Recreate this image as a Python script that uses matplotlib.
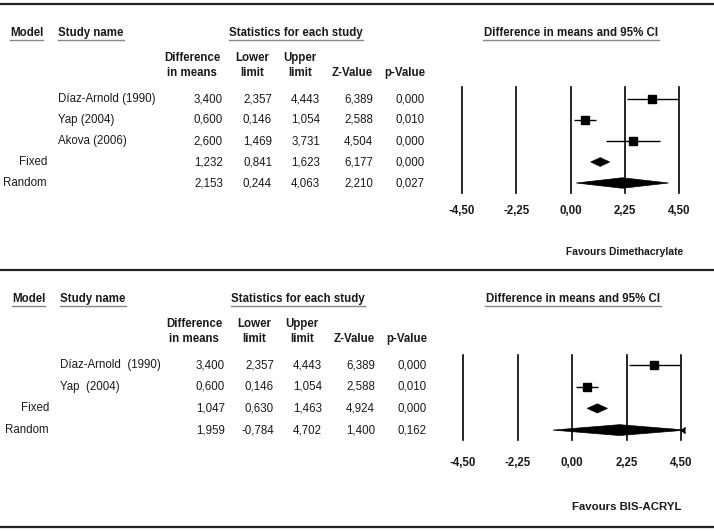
import numpy as np
import matplotlib
matplotlib.use('Agg')
from matplotlib import pyplot as plt
from matplotlib.patches import Polygon

W, H = 714, 531
plt.rcParams['font.family'] = ['Liberation Sans', 'DejaVu Sans']
FS = 8.3
TXT = '#1a1a1a'

# ---- data: panel A (Dimethacrylate) ----
studies_a = ['Díaz-Arnold (1990)', 'Yap (2004)', 'Akova (2006)']
diff_a  = [3.400, 0.600, 2.600]
lower_a = [2.357, 0.146, 1.469]
upper_a = [4.443, 1.054, 3.731]
z_a     = [6.389, 2.588, 4.504]
p_a     = [0.000, 0.010, 0.000]
pooled_a       = ['Fixed', 'Random']
pooled_diff_a  = [1.232, 2.153]
pooled_lower_a = [0.841, 0.244]
pooled_upper_a = [1.623, 4.063]
pooled_z_a     = [6.177, 2.210]
pooled_p_a     = [0.000, 0.027]

# ---- data: panel B (BIS-ACRYL) ----
studies_b = ['Díaz-Arnold  (1990)', 'Yap  (2004)']
diff_b  = [3.400, 0.600]
lower_b = [2.357, 0.146]
upper_b = [4.443, 1.054]
z_b     = [6.389, 2.588]
p_b     = [0.000, 0.010]
pooled_b       = ['Fixed', 'Random']
pooled_diff_b  = [1.047, 1.959]
pooled_lower_b = [0.630, -0.784]
pooled_upper_b = [1.463, 4.702]
pooled_z_b     = [4.924, 1.400]
pooled_p_b     = [0.000, 0.162]

xticks      = [-4.5, -2.25, 0.0, 2.25, 4.5]
xticklabels = ['-4,50', '-2,25', '0,00', '2,25', '4,50']


def fx(x):  return x / W
def fy(y):  return 1 - y / H
def fmt(v): return f'{v:.3f}'.replace('.', ',')


def txt(fig, x, y, s, ha='left', bold=False, size=FS):
    fig.text(fx(x), fy(y), s, ha=ha, va='center', fontsize=size, color=TXT,
             fontweight='bold' if bold else 'normal')


def hline(fig, x0, x1, y, color='#888888', lw=1.0):
    fig.add_artist(plt.Line2D([fx(x0), fx(x1)], [fy(y), fy(y)], color=color, lw=lw,
                              transform=fig.transFigure))


def panel(fig, y0, dx, studies, diff, lower, upper, z, p,
          pooled, pdiff, plower, pupper, pz, pp, favours, box):
    # headers
    txt(fig, 10+dx, y0, 'Model', bold=True)
    hline(fig, 10+dx, 43+dx, y0+7)
    txt(fig, 58+dx, y0, 'Study name', bold=True)
    hline(fig, 58+dx, 124+dx, y0+7)
    txt(fig, 296+dx, y0, 'Statistics for each study', ha='center', bold=True)
    hline(fig, 229+dx, 363+dx, y0+7)
    txt(fig, 571+dx, y0, 'Difference in means and 95% CI', ha='center', bold=True)
    hline(fig, 483+dx, 659+dx, y0+7)
    txt(fig, 192+dx, y0+25, 'Difference', ha='center', bold=True)
    txt(fig, 192+dx, y0+40, 'in means', ha='center', bold=True)
    txt(fig, 252+dx, y0+25, 'Lower', ha='center', bold=True)
    txt(fig, 252+dx, y0+40, 'limit', ha='center', bold=True)
    txt(fig, 300+dx, y0+25, 'Upper', ha='center', bold=True)
    txt(fig, 300+dx, y0+40, 'limit', ha='center', bold=True)
    txt(fig, 373+dx, y0+40, 'Z-Value', ha='right', bold=True)
    txt(fig, 425+dx, y0+40, 'p-Value', ha='right', bold=True)

    # table rows
    row0, step = y0 + 66, box['step']
    labels_model = [''] * len(studies) + pooled
    labels_study = studies + [''] * len(pooled)
    cols = [diff + pdiff, lower + plower, upper + pupper, z + pz, p + pp]
    rights = [223, 272, 320, 373, 425]
    for i in range(len(labels_model)):
        y = row0 + i * step
        if labels_model[i]:
            txt(fig, 47+dx, y, labels_model[i], ha='right')
        if labels_study[i]:
            txt(fig, 58+dx, y, labels_study[i])
        for c, r in zip(cols, rights):
            txt(fig, r+dx, y, fmt(c[i]), ha='right')

    # forest plot
    x0, x1, ya, yb = box['x0'], box['x1'], box['y0'], box['y1']
    ax = fig.add_axes([fx(x0), fy(yb), fx(x1 - x0), (yb - ya) / H])
    n = len(studies)
    ax.set_xlim(-4.5, 4.5)
    ax.set_ylim((yb - row0) / step, (ya - row0) / step)
    for t in xticks:
        ax.axvline(t, color='black', lw=1.2, clip_on=False)
    rows = np.arange(n)
    ax.hlines(rows, lower, upper, color='black', lw=1.0, clip_on=False)
    ax.plot(diff, rows, 's', color='black', ms=5.2, clip_on=False, zorder=3)
    for k, (m, lo, hi) in enumerate(zip(pdiff, plower, pupper)):
        yy = n + k
        h = 0.21 if k == 0 else 0.25
        poly = Polygon([[lo, yy], [m, yy - h], [hi, yy], [m, yy + h]],
                       closed=True, facecolor='black', edgecolor='black', lw=0.5,
                       clip_on=True, zorder=3)
        ax.add_patch(poly)
        if hi > 4.5:   # interval runs off the scale: arrow at the edge
            ax.plot([4.5], [yy], marker=4, color='black', ms=4, clip_on=False)
    ax.set_xticks(xticks, xticklabels)
    ax.tick_params(axis='x', length=0, pad=box['pad'], labelsize=FS, labelcolor=TXT)
    for lab in ax.get_xticklabels():
        lab.set_fontweight('bold')
    ax.set_yticks([])
    for s in ax.spines.values():
        s.set_visible(False)
    ax.patch.set_alpha(0)

    txt(fig, box['fav_x'], box['fav_y'], favours, ha='center', bold=True, size=box['fav_fs'])


fig = plt.figure(figsize=(W / 100, H / 100), dpi=100)

hline(fig, 0, W, 4, color='#222222', lw=1.6)
hline(fig, 0, W, 270, color='#222222', lw=1.6)
hline(fig, 0, W, 527, color='#222222', lw=1.6)

panel(fig, 33, 0, studies_a, diff_a, lower_a, upper_a, z_a, p_a,
      pooled_a, pooled_diff_a, pooled_lower_a, pooled_upper_a, pooled_z_a, pooled_p_a,
      'Favours Dimethacrylate',
      dict(x0=462, x1=679, y0=87, y1=193, step=21.0, pad=9, fav_x=625, fav_y=252, fav_fs=7.4))

panel(fig, 299, 2, studies_b, diff_b, lower_b, upper_b, z_b, p_b,
      pooled_b, pooled_diff_b, pooled_lower_b, pooled_upper_b, pooled_z_b, pooled_p_b,
      'Favours BIS-ACRYL',
      dict(x0=463, x1=681, y0=355, y1=440, step=21.7, pad=12, fav_x=627, fav_y=507, fav_fs=8.2))

fig.savefig('out.png', dpi=100)
